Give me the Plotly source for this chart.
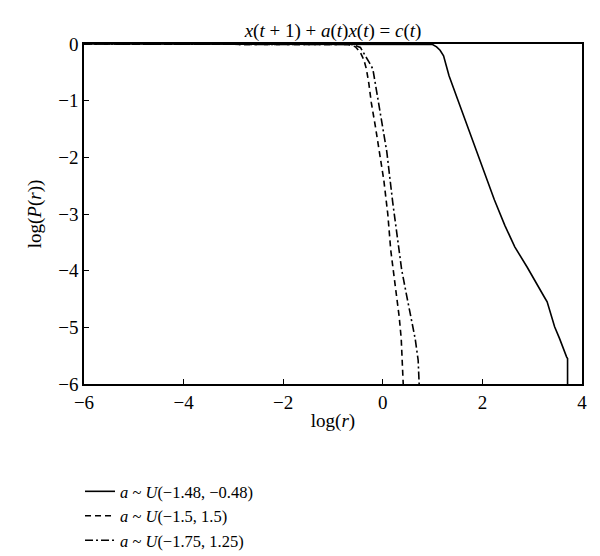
import plotly.graph_objects as go

# Series (log(r), log(P(r)))
solid_x = [-6, 0.5, 0.9, 1.0, 1.08, 1.15, 1.22, 1.33, 1.5, 1.7, 1.92, 2.1, 2.24, 2.45, 2.65,
           2.9, 3.05, 3.15, 3.24, 3.3, 3.35, 3.45, 3.55, 3.62, 3.69, 3.71, 3.71]
solid_y = [0, 0, 0, -0.01, -0.05, -0.11, -0.21, -0.56, -0.97, -1.45, -1.98, -2.42, -2.75, -3.2, -3.58,
           -3.94, -4.18, -4.34, -4.46, -4.55, -4.7, -4.99, -5.2, -5.38, -5.52, -5.55, -6]

dash_x = [-6, -0.9, -0.7, -0.55, -0.45, -0.38, -0.33, -0.28, -0.23, -0.15, -0.06, 0.02, 0.1,
          0.16, 0.21, 0.27, 0.33, 0.37, 0.39, 0.41]
dash_y = [0, 0, -0.01, -0.05, -0.15, -0.28, -0.44, -0.7, -1.04, -1.45, -1.92, -2.4, -3.0,
          -3.64, -3.99, -4.4, -4.82, -5.2, -5.6, -6]

dashdot_x = [-6, -0.8, -0.6, -0.45, -0.35, -0.27, -0.2, -0.15, -0.1, 0.0, 0.08, 0.2, 0.33,
             0.38, 0.47, 0.57, 0.65, 0.71, 0.73]
dashdot_y = [0, 0, -0.01, -0.06, -0.2, -0.33, -0.44, -0.7, -1.0, -1.5, -1.9, -2.8, -3.64,
             -3.99, -4.4, -4.82, -5.2, -5.58, -6]

names = ["<i>a</i> ~ <i>U</i>(−1.48, −0.48)",
         "<i>a</i> ~ <i>U</i>(−1.5, 1.5)",
         "<i>a</i> ~ <i>U</i>(−1.75, 1.25)"]

x_ticks = [-6, -4, -2, 0, 2, 4]
y_ticks = [0, -1, -2, -3, -4, -5, -6]

FONT = "Liberation Serif"
FS = 19
LFS = 16.5

fig = go.Figure()
fig.add_trace(go.Scatter(x=solid_x, y=solid_y, mode="lines", name=names[0],
                         line=dict(color="black", width=1.6, dash="solid")))
fig.add_trace(go.Scatter(x=dash_x, y=dash_y, mode="lines", name=names[1],
                         line=dict(color="black", width=1.6, dash="6px,4px")))
fig.add_trace(go.Scatter(x=dashdot_x, y=dashdot_y, mode="lines", name=names[2],
                         line=dict(color="black", width=1.6, dash="8px,3px,2px,3px")))

axis_common = dict(showgrid=False, zeroline=False, showline=True, linecolor="black",
                   linewidth=1.5, mirror=True, ticks="inside", ticklen=5, tickwidth=1,
                   tickcolor="black", tickfont=dict(family=FONT, size=FS, color="black"))

# page body has an 8px default margin, so the figure is sized to fit the window
fig.update_layout(
    width=592, height=548,
    paper_bgcolor="white", plot_bgcolor="white",
    margin=dict(l=76, r=18, t=36, b=172, autoexpand=False),
    font=dict(family=FONT, size=FS, color="black"),
    title=dict(text="<i>x</i>(<i>t</i> + 1) + <i>a</i>(<i>t</i>)<i>x</i>(<i>t</i>) = <i>c</i>(<i>t</i>)",
               x=0.5, xanchor="center", xref="paper", y=1, yref="paper", yanchor="bottom",
               pad=dict(b=7), font=dict(family=FONT, size=FS, color="black")),
    xaxis=dict(range=[-6, 4], tickvals=x_ticks,
               title=dict(text="log(<i>r</i>)", standoff=2,
                          font=dict(family=FONT, size=FS, color="black")),
               **axis_common),
    yaxis=dict(range=[-6, 0], tickvals=y_ticks,
               title=dict(text="log(<i>P</i>(<i>r</i>))", standoff=12,
                          font=dict(family=FONT, size=FS, color="black")),
               **axis_common),
    showlegend=True,
    legend=dict(x=-0.008, xanchor="left", y=-0.265, yanchor="top",
                orientation="v", bgcolor="rgba(0,0,0,0)",
                font=dict(family=FONT, size=LFS, color="black")),
)

fig.write_html("out.html")
